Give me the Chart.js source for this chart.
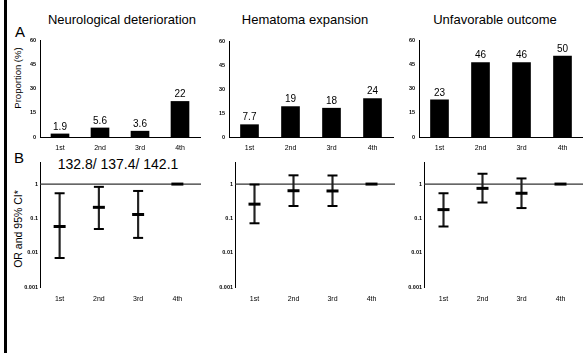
<!DOCTYPE html>
<html><head><meta charset="utf-8">
<script src="https://cdn.jsdelivr.net/npm/chart.js@4"></script>
<style>
body{margin:0;background:#fff;width:583px;height:353px;overflow:hidden;position:relative;font-family:'Liberation Sans',Arial,sans-serif;}
.t{position:absolute;white-space:nowrap;color:#000;line-height:1;}
canvas{position:absolute;}
</style></head><body>
<div style="position:absolute;left:4px;top:0;width:3px;height:353px;background:#000"></div>
<div class="t" style="left:122px;top:19px;font-size:13px;transform:translate(-50%,-50%)">Neurological deterioration</div>
<div class="t" style="left:305px;top:19px;font-size:13px;transform:translate(-50%,-50%)">Hematoma expansion</div>
<div class="t" style="left:495px;top:19px;font-size:13px;transform:translate(-50%,-50%)">Unfavorable outcome</div>
<div class="t" style="left:20px;top:31px;font-size:15px;transform:translate(-50%,-50%)">A</div>
<div class="t" style="left:19px;top:157px;font-size:15px;transform:translate(-50%,-50%)">B</div>
<div class="t" style="left:18px;top:78px;font-size:9.5px;transform:translate(-50%,-50%) rotate(-90deg)">Proportion (%)</div>
<div class="t" style="left:18px;top:229px;font-size:10.5px;transform:translate(-50%,-50%) rotate(-90deg)">OR and 95% CI*</div>
<div class="t" style="left:118px;top:164px;font-size:14px;transform:translate(-50%,-50%)">132.8/ 137.4/ 142.1</div>
<canvas id="c1"></canvas><canvas id="c2"></canvas><canvas id="c3"></canvas>
<canvas id="c4"></canvas><canvas id="c5"></canvas><canvas id="c6"></canvas>
<script>
const categories = ['1st','2nd','3rd','4th'];
const proportionTicks = [0,15,30,45,60];
const orTicks = [0.001,0.01,0.1,1];

const neuroProp = [1.9,5.6,3.6,22];
const hemaProp = [7.7,19,18,24];
const unfavProp = [23,46,46,50];

const neuroOR = [0.058,0.21,0.13,1];
const neuroLow = [0.007,0.049,0.027,null];
const neuroHigh = [0.54,0.83,0.63,null];

const hemaOR = [0.26,0.64,0.63,1];
const hemaLow = [0.072,0.23,0.23,null];
const hemaHigh = [0.97,1.8,1.78,null];

const unfavOR = [0.18,0.75,0.54,1];
const unfavLow = [0.058,0.29,0.2,null];
const unfavHigh = [0.54,2.0,1.46,null];

const FONT = "'Liberation Sans', Arial, sans-serif";
Chart.defaults.font.family = FONT;
Chart.defaults.color = '#000';

const WY = 24, PADT = 12, HX = 20, PADR = 6;

function place(canvas, box){
  const w = box.R - box.L + WY + PADR;
  const h = box.B - box.T + PADT + HX;
  canvas.width = w; canvas.height = h;
  canvas.style.width = w+'px'; canvas.style.height = h+'px';
  canvas.style.left = (box.L - WY)+'px';
  canvas.style.top = (box.T - PADT)+'px';
}

const barLabels = {
  id:'barLabels',
  afterDatasetsDraw(chart){
    const ctx = chart.ctx;
    const meta = chart.getDatasetMeta(0);
    const vals = chart.data.datasets[0].data;
    ctx.save();
    ctx.font = '10px '+FONT;
    ctx.fillStyle = '#000';
    ctx.textAlign = 'center';
    ctx.textBaseline = 'bottom';
    meta.data.forEach((bar,i)=>{ ctx.fillText(String(vals[i]), bar.x, bar.y - 2); });
    ctx.restore();
  }
};

const refLine = {
  id:'refLine',
  beforeDatasetsDraw(chart){
    const ctx = chart.ctx, a = chart.chartArea;
    const y = chart.scales.y.getPixelForValue(1);
    ctx.save();
    ctx.strokeStyle = '#333';
    ctx.lineWidth = 1.2;
    ctx.beginPath();
    ctx.moveTo(a.left, y); ctx.lineTo(a.right + 4, y);
    ctx.stroke();
    ctx.restore();
  }
};

function topChart(id, values, box){
  const cv = document.getElementById(id);
  place(cv, box);
  new Chart(cv, {
    type:'bar',
    data:{labels:categories, datasets:[{data:values, backgroundColor:'#000', barThickness:18}]},
    options:{
      responsive:false, animation:false, devicePixelRatio:1,
      layout:{padding:{left:0, top:PADT, right:PADR, bottom:0}},
      plugins:{legend:{display:false}, tooltip:{enabled:false}},
      scales:{
        x:{grid:{display:false, drawTicks:false}, border:{display:true, color:'#000', width:1},
           ticks:{font:{size:7}, padding:7},
           afterFit(s){ s.height = HX; }},
        y:{min:0, max:60, grid:{display:false, drawTicks:false}, border:{display:true, color:'#000', width:1},
           afterBuildTicks(s){ s.ticks = proportionTicks.map(v=>({value:v})); },
           ticks:{font:{size:5.5, weight:'bold'}, padding:4, callback:v=>String(v)},
           afterFit(s){ s.width = WY; }}
      }
    },
    plugins:[barLabels]
  });
}

function bottomChart(id, orv, low, high, box){
  const cv = document.getElementById(id);
  place(cv, box);
  const whisk = categories.map((c,i)=> low[i]==null ? null : [low[i], high[i]]);
  new Chart(cv, {
    type:'bar',
    data:{labels:categories, datasets:[
      {type:'bar', data:whisk, backgroundColor:'#222', barThickness:1.5, grouped:false, order:3},
      {type:'line', data:low, showLine:false, pointStyle:'line', pointRadius:5, pointBorderWidth:2, borderColor:'#000', backgroundColor:'#000', order:2},
      {type:'line', data:high, showLine:false, pointStyle:'line', pointRadius:5, pointBorderWidth:2, borderColor:'#000', backgroundColor:'#000', order:2},
      {type:'line', data:orv, showLine:false, pointStyle:'line', pointRadius:6, pointBorderWidth:3, borderColor:'#000', backgroundColor:'#000', order:1}
    ]},
    options:{
      responsive:false, animation:false, devicePixelRatio:1,
      layout:{padding:{left:0, top:PADT, right:PADR, bottom:0}},
      plugins:{legend:{display:false}, tooltip:{enabled:false}},
      scales:{
        x:{grid:{display:false, drawTicks:false}, border:{display:false},
           ticks:{font:{size:7}, padding:8},
           afterFit(s){ s.height = HX; }},
        y:{type:'logarithmic', min:0.001, max:4.4, grid:{display:false, drawTicks:false}, border:{display:true, color:'#000', width:1},
           afterBuildTicks(s){ s.ticks = orTicks.map(v=>({value:v})); },
           ticks:{font:{size:5.5, weight:'bold'}, padding:2, callback:v=>String(v)},
           afterFit(s){ s.width = WY; }}
      }
    },
    plugins:[refLine]
  });
}

topChart('c1', neuroProp, {L:40, R:200, T:40, B:137});
topChart('c2', hemaProp, {L:229, R:393, T:41, B:137});
topChart('c3', unfavProp, {L:419, R:583, T:40, B:137});
bottomChart('c4', neuroOR, neuroLow, neuroHigh, {L:40, R:200, T:162, B:287});
bottomChart('c5', hemaOR, hemaLow, hemaHigh, {L:235, R:394, T:162, B:287});
bottomChart('c6', unfavOR, unfavLow, unfavHigh, {L:424, R:583, T:162, B:287});
</script>
</body></html>
